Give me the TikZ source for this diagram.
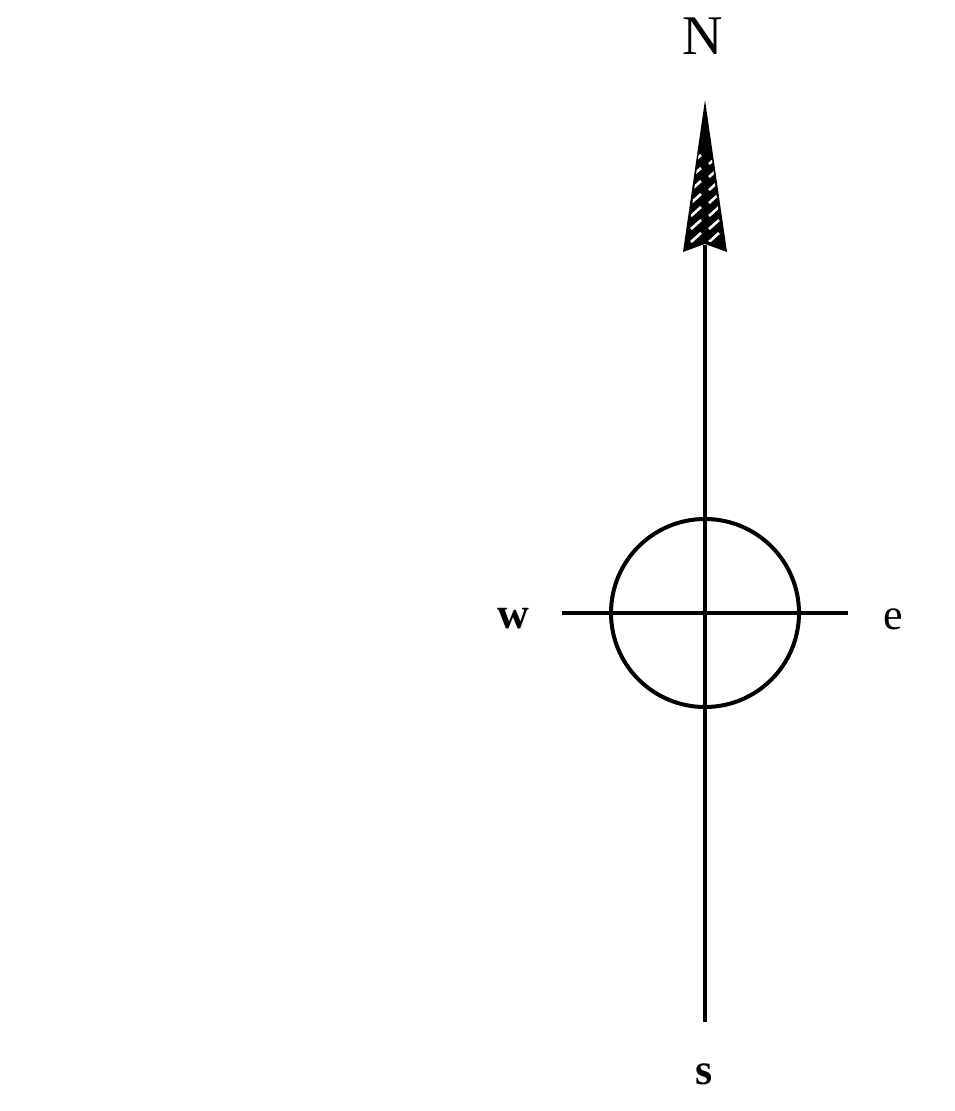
\documentclass[tikz,border=0pt]{standalone}
\usepackage{fontspec}
\setmainfont{Liberation Serif}
\begin{document}
\begin{tikzpicture}[x=1pt,y=-1pt,
  ln/.style={line width=4pt,black},
  lbl/.style={inner sep=0pt,font=\fontsize{44}{48}\selectfont},
  stripe/.style={white,line width=2.6pt}]
\useasboundingbox (0,0) rectangle (954,1111);
\coordinate (tip) at (705,100);
\coordinate (bot) at (705,1022);
\coordinate (wend) at (562,613);
\coordinate (eend) at (848,613);
\coordinate (ctr) at (705,613);
% shaft
\draw[ln] (705,245) -- (bot);
% cross bar
\draw[ln] (wend) -- (eend);
% circle
\draw[ln] (ctr) circle (94);
% arrowhead
\fill[black] (tip) -- (727,252) -- (705,244) -- (683,252) -- cycle;
\begin{scope}
  \clip (705,104) -- (723,247) -- (705,240) -- (687,247) -- cycle;
  \foreach \y in {160,173,...,245} {
    \draw[stripe] (691,\y+4) -- (701,\y-5);
    \draw[stripe] (709,\y+4) -- (719,\y-5);
  }
\end{scope}
% labels
\node[lbl,font=\fontsize{56}{60}\selectfont] (N) at (703,36) {N};
\node[lbl,font=\fontsize{44}{48}\selectfont\bfseries] (W) at (513,619) {w};
\node[lbl] (E) at (893,619) {e};
\node[lbl,font=\fontsize{44}{48}\selectfont\bfseries] (S) at (704,1074) {s};
\end{tikzpicture}
\end{document}
